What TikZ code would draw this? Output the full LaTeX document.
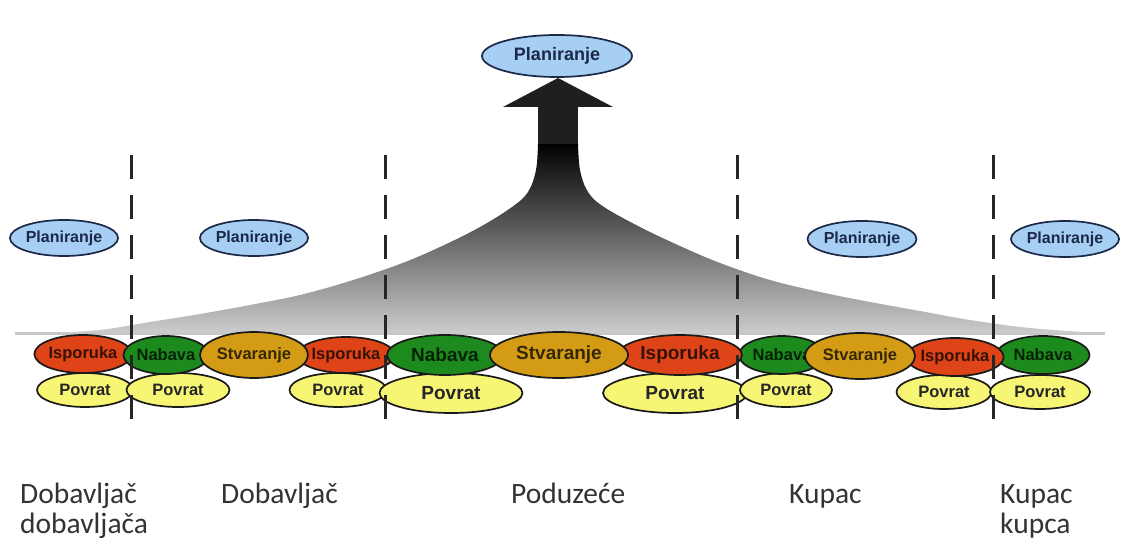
\documentclass[tikz,border=0pt]{standalone}
\usepackage{fontspec}
\setsansfont{Liberation Sans}
\newfontfamily\carlito{Carlito}
\usetikzlibrary{shapes.geometric}
\definecolor{planc}{HTML}{A7CFF3}
\definecolor{navyc}{HTML}{1B2848}
\definecolor{ispc}{HTML}{DE4418}
\definecolor{nabc}{HTML}{1C8A1C}
\definecolor{stvc}{HTML}{D49C14}
\definecolor{povc}{HTML}{F7F574}
\tikzset{
  ell/.style={ellipse, draw=black!90, line width=1.7pt, inner sep=0pt,
    font=\sffamily\bfseries\fontsize{16.5}{18}\selectfont},
  wh/.style 2 args={minimum width=#1, minimum height=#2},
  big/.style={font=\sffamily\bfseries\fontsize{19}{21}\selectfont},
  isp/.style={ell, fill=ispc, text=ispc!25!black},
  nab/.style={ell, fill=nabc, text=nabc!25!black},
  stv/.style={ell, fill=stvc, text=stvc!25!black},
  pov/.style={ell, fill=povc, text=black!85},
  plan/.style={ell, fill=planc, draw=navyc, text=navyc,
    font=\sffamily\bfseries\fontsize{16}{17}\selectfont},
  divider/.style={draw=black!85, line width=3pt, dash pattern=on 24pt off 16pt},
  party/.style={anchor=base west, inner sep=0pt, text=black!80,
    font=\carlito\fontsize{29.5}{30}\selectfont}
}
\begin{document}
\begin{tikzpicture}[x=1pt,y=-1pt]
\useasboundingbox (0,0) rectangle (1122,548);
\fill[white] (0,0) rectangle (1122,548);

% gray base line
\draw[black!22, line width=3pt] (15,333) -- (1105,333);

% fan with gradient
\shade[top color=black, bottom color=black!20]
  plot[smooth, tension=0.6] coordinates {(50,333) (100,330) (150,322) (200,314) (250,305) (300,295) (350,281) (400,264) (440,247) (480,227) (512,207) (528,192) (536,170) (538,143)}
  -- plot[smooth, tension=0.6] coordinates {(578,143) (580,170) (588,192) (604,207) (640,227) (680,246) (720,263) (770,280) (820,292) (870,302) (920,311) (970,320) (1030,328) (1100,333)}
  -- cycle;

% arrow shaft and head
\fill[black!88] (538,106) rectangle (578,144);
\fill[black!88] (503,107) -- (558,78) -- (613,107) -- cycle;

% planning ellipses
\node[plan, wh={150pt}{42pt}, font=\sffamily\bfseries\fontsize{18}{19}\selectfont] (plan0) at (557,56) {Planiranje};
\node[plan, wh={108pt}{36pt}] (plan1) at (64,238) {Planiranje};
\node[plan, wh={108pt}{36pt}] (plan2) at (254,238) {Planiranje};
\node[plan, wh={109pt}{36pt}] (plan3) at (862,239) {Planiranje};
\node[plan, wh={104pt}{36pt}] (plan4) at (1065,239) {Planiranje};

% return ellipses
\node[pov, wh={96pt}{34pt}] (pov1) at (85,390) {Povrat};
\node[pov, wh={103pt}{34pt}] (pov2) at (178,390) {Povrat};
\node[pov, wh={97pt}{34pt}] (pov3) at (338,390) {Povrat};
\node[pov, big, wh={143pt}{40pt}] (pov4) at (451,393) {Povrat};
\node[pov, big, wh={144pt}{40pt}] (pov5) at (675,393) {Povrat};
\node[pov, wh={92pt}{34pt}] (pov6) at (786,390) {Povrat};
\node[pov, wh={95pt}{34pt}] (pov7) at (944,392) {Povrat};
\node[pov, wh={100pt}{34pt}] (pov8) at (1040,392) {Povrat};

% process ellipses
\node[isp, wh={97pt}{38pt}] (isp1) at (83,354) {Isporuka};
\node[nab, wh={85pt}{38pt}] (nab1) at (166,355) {Nabava};
\node[isp, wh={87pt}{36pt}] (isp2) at (346,355) {Isporuka};
\node[stv, wh={108pt}{46pt}] (stv1) at (254,355) {Stvaranje};
\node[nab, big, wh={116pt}{40pt}] (nab2) at (445,355) {Nabava};
\node[nab, wh={86pt}{38pt}] (nab3) at (782,355) {Nabava};
\node[isp, big, wh={124pt}{40pt}] (isp3) at (680,355) {Isporuka};
\node[stv, big, wh={138pt}{46pt}] (stv2) at (559,355) {Stvaranje};
\node[nab, wh={93pt}{38pt}] (nab4) at (1043,355) {Nabava};
\node[isp, wh={86pt}{38pt}] (isp4) at (955,357) {Isporuka};
\node[stv, wh={110pt}{46pt}] (stv3) at (860,356) {Stvaranje};

% dividers
\draw[divider] (131,155) -- (131,427);
\draw[divider] (385,155) -- (385,427);
\draw[divider] (737,155) -- (737,427);
\draw[divider] (993,155) -- (993,427);

% party labels
\node[party] (p1) at (20,503) {\begin{tabular}[t]{@{}l@{}}Dobavljač\\dobavljača\end{tabular}};
\node[party] (p2) at (221,503) {Dobavljač};
\node[party] (p3) at (511,503) {Poduzeće};
\node[party] (p4) at (789,503) {Kupac};
\node[party] (p5) at (1000,503) {\begin{tabular}[t]{@{}l@{}}Kupac\\kupca\end{tabular}};
\end{tikzpicture}
\end{document}
